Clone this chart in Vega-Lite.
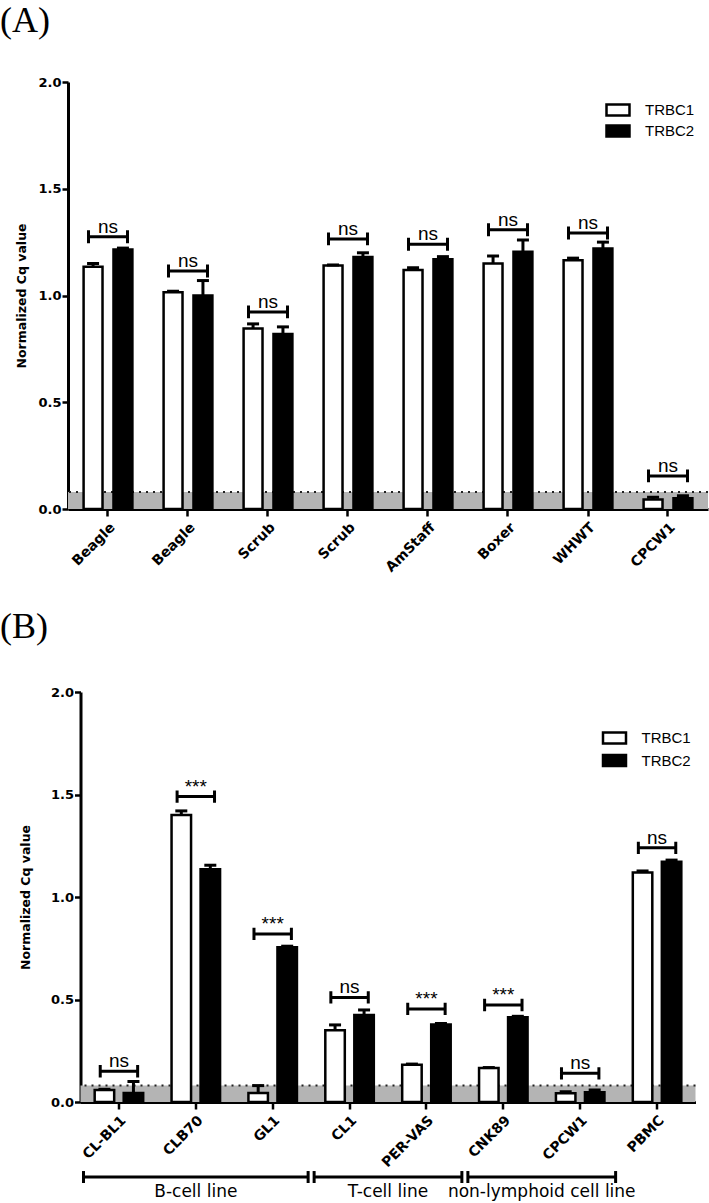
{
  "$schema": "https://vega.github.io/schema/vega-lite/v6.json",
  "autosize": {"type": "pad"},
  "padding": {"left": 0, "top": 3, "right": 0, "bottom": 0},
  "background": "white",
  "config": {
    "view": {"stroke": null},
    "axis": {
      "grid": false,
      "domainColor": "black",
      "domainWidth": 3,
      "tickColor": "black",
      "tickWidth": 2.5,
      "tickSize": 6,
      "labelColor": "black",
      "labelFont": "DejaVu Sans",
      "labelFontWeight": "bold",
      "labelFontSize": 13,
      "titleColor": "black",
      "titleFont": "DejaVu Sans",
      "titleFontWeight": "bold",
      "titleFontSize": 12.5
    },
    "legend": {
      "title": null,
      "orient": "none",
      "padding": 0,
      "symbolType": "M-1.5,-0.72H1.5V0.72H-1.5Z",
      "symbolSize": 235,
      "symbolStrokeColor": "black",
      "symbolStrokeWidth": 2.5,
      "symbolOpacity": 1,
      "labelFont": "Liberation Sans",
      "labelFontSize": 15,
      "labelColor": "black",
      "labelOffset": 18
    },
    "title": {
      "font": "Liberation Serif",
      "fontSize": 36,
      "fontWeight": "normal",
      "color": "black",
      "anchor": "start",
      "frame": "group"
    }
  },
  "datasets": {
    "threshold": [{"lo": 0, "hi": 0.08}],
    "bars_a": [
      {"sample": "Beagle#1", "gene": "TRBC1", "mean": 1.135, "upper": 1.15},
      {"sample": "Beagle#1", "gene": "TRBC2", "mean": 1.215, "upper": 1.222},
      {"sample": "Beagle#2", "gene": "TRBC1", "mean": 1.015, "upper": 1.02},
      {"sample": "Beagle#2", "gene": "TRBC2", "mean": 1.0, "upper": 1.07},
      {"sample": "Scrub#1", "gene": "TRBC1", "mean": 0.845, "upper": 0.867},
      {"sample": "Scrub#1", "gene": "TRBC2", "mean": 0.82, "upper": 0.853},
      {"sample": "Scrub#2", "gene": "TRBC1", "mean": 1.14, "upper": 1.143},
      {"sample": "Scrub#2", "gene": "TRBC2", "mean": 1.18, "upper": 1.2},
      {"sample": "AmStaff", "gene": "TRBC1", "mean": 1.12, "upper": 1.13},
      {"sample": "AmStaff", "gene": "TRBC2", "mean": 1.17, "upper": 1.182},
      {"sample": "Boxer", "gene": "TRBC1", "mean": 1.15, "upper": 1.185},
      {"sample": "Boxer", "gene": "TRBC2", "mean": 1.205, "upper": 1.26},
      {"sample": "WHWT", "gene": "TRBC1", "mean": 1.165, "upper": 1.175},
      {"sample": "WHWT", "gene": "TRBC2", "mean": 1.22, "upper": 1.25},
      {"sample": "CPCW1", "gene": "TRBC1", "mean": 0.045, "upper": 0.055},
      {"sample": "CPCW1", "gene": "TRBC2", "mean": 0.05, "upper": 0.062}
    ],
    "sig_a": [
      {"sample": "Beagle#1", "y": 1.275, "label": "ns"},
      {"sample": "Beagle#2", "y": 1.115, "label": "ns"},
      {"sample": "Scrub#1", "y": 0.923, "label": "ns"},
      {"sample": "Scrub#2", "y": 1.265, "label": "ns"},
      {"sample": "AmStaff", "y": 1.24, "label": "ns"},
      {"sample": "Boxer", "y": 1.308, "label": "ns"},
      {"sample": "WHWT", "y": 1.293, "label": "ns"},
      {"sample": "CPCW1", "y": 0.155, "label": "ns"}
    ],
    "bars_b": [
      {"sample": "CL-BL1", "gene": "TRBC1", "mean": 0.059, "upper": 0.062},
      {"sample": "CL-BL1", "gene": "TRBC2", "mean": 0.044, "upper": 0.1},
      {"sample": "CLB70", "gene": "TRBC1", "mean": 1.4, "upper": 1.42},
      {"sample": "CLB70", "gene": "TRBC2", "mean": 1.135, "upper": 1.155},
      {"sample": "GL1", "gene": "TRBC1", "mean": 0.044, "upper": 0.08},
      {"sample": "GL1", "gene": "TRBC2", "mean": 0.755, "upper": 0.76},
      {"sample": "CL1", "gene": "TRBC1", "mean": 0.35, "upper": 0.376},
      {"sample": "CL1", "gene": "TRBC2", "mean": 0.425, "upper": 0.449},
      {"sample": "PER-VAS", "gene": "TRBC1", "mean": 0.182, "upper": 0.185},
      {"sample": "PER-VAS", "gene": "TRBC2", "mean": 0.378, "upper": 0.383},
      {"sample": "CNK89", "gene": "TRBC1", "mean": 0.166, "upper": 0.168},
      {"sample": "CNK89", "gene": "TRBC2", "mean": 0.413, "upper": 0.418},
      {"sample": "CPCW1", "gene": "TRBC1", "mean": 0.043, "upper": 0.05},
      {"sample": "CPCW1", "gene": "TRBC2", "mean": 0.048, "upper": 0.058},
      {"sample": "PBMC", "gene": "TRBC1", "mean": 1.12, "upper": 1.127},
      {"sample": "PBMC", "gene": "TRBC2", "mean": 1.172, "upper": 1.18}
    ],
    "sig_b": [
      {"sample": "CL-BL1", "y": 0.15, "label": "ns"},
      {"sample": "CLB70", "y": 1.49, "label": "***"},
      {"sample": "GL1", "y": 0.82, "label": "***"},
      {"sample": "CL1", "y": 0.51, "label": "ns"},
      {"sample": "PER-VAS", "y": 0.454, "label": "***"},
      {"sample": "CNK89", "y": 0.473, "label": "***"},
      {"sample": "CPCW1", "y": 0.14, "label": "ns"},
      {"sample": "PBMC", "y": 1.24, "label": "ns"}
    ],
    "groups_b": [
      {"group": "B-cell line", "from": 0, "to": 3},
      {"group": "T-cell line", "from": 3, "to": 5},
      {"group": "non-lymphoid cell line", "from": 5, "to": 7}
    ]
  },
  "bounds": "flush",
  "center": true,
  "spacing": 183,
  "resolve": {
    "scale": {"x": "independent", "y": "independent", "xOffset": "independent"},
    "legend": {"fill": "independent"}
  },
  "vconcat": [
    {
      "width": 640,
      "height": 427,
      "title": {"text": "(A)", "dx": -68, "offset": 36},
      "layer": [
        {
          "data": {"name": "threshold"},
          "mark": {"type": "rect", "color": "#b4b4b4"},
          "encoding": {
            "y": {"field": "lo", "type": "quantitative", "title": "Normalized Cq value", "scale": {"domain": [0, 2], "nice": false}},
            "y2": {"field": "hi"}
          }
        },
        {
          "data": {"name": "threshold"},
          "mark": {"type": "rule", "color": "#222", "strokeWidth": 2, "strokeDash": [2, 5]},
          "encoding": {
            "y": {"field": "hi", "type": "quantitative", "title": "Normalized Cq value", "scale": {"domain": [0, 2], "nice": false}}
          }
        },
        {
          "data": {"name": "bars_a"},
          "mark": {"type": "bar", "stroke": "black", "strokeWidth": 2.5},
          "encoding": {
            "x": {
              "field": "sample", "type": "nominal",
              "scale": {"domain": ["Beagle#1", "Beagle#2", "Scrub#1", "Scrub#2", "AmStaff", "Boxer", "WHWT", "CPCW1"], "paddingInner": 0.39, "paddingOuter": 0.195},
              "axis": {"title": null, "labelAngle": -45, "labelExpr": "split(datum.label, '#')[0]", "labelFontSize": 14, "tickSize": 7, "labelPadding": 4}
            },
            "xOffset": {"field": "gene", "type": "nominal", "scale": {"domain": ["TRBC1", "TRBC2"], "paddingInner": 0.367, "paddingOuter": 0}},
            "y": {
              "field": "mean", "type": "quantitative", "title": "Normalized Cq value",
              "scale": {"domain": [0, 2], "nice": false},
              "axis": {"values": [0, 0.5, 1, 1.5, 2], "format": ".1f", "labelPadding": 1, "titlePadding": 9}
            },
            "fill": {
              "field": "gene", "type": "nominal",
              "scale": {"domain": ["TRBC1", "TRBC2"], "range": ["white", "black"]},
              "legend": {"legendX": 541, "legendY": 19, "rowPadding": -1}
            }
          }
        },
        {
          "data": {"name": "bars_a"},
          "mark": {"type": "rule", "color": "black", "strokeWidth": 3},
          "encoding": {
            "x": {"field": "sample", "type": "nominal", "scale": {"domain": ["Beagle#1", "Beagle#2", "Scrub#1", "Scrub#2", "AmStaff", "Boxer", "WHWT", "CPCW1"], "paddingInner": 0.39, "paddingOuter": 0.195}},
            "xOffset": {"field": "gene", "type": "nominal", "scale": {"domain": ["TRBC1", "TRBC2"], "paddingInner": 0.367, "paddingOuter": 0}},
            "y": {"field": "mean", "type": "quantitative", "title": "Normalized Cq value", "scale": {"domain": [0, 2], "nice": false}},
            "y2": {"field": "upper"}
          }
        },
        {
          "data": {"name": "bars_a"},
          "mark": {"type": "tick", "color": "black", "size": 12, "thickness": 3, "opacity": 1},
          "encoding": {
            "x": {"field": "sample", "type": "nominal", "scale": {"domain": ["Beagle#1", "Beagle#2", "Scrub#1", "Scrub#2", "AmStaff", "Boxer", "WHWT", "CPCW1"], "paddingInner": 0.39, "paddingOuter": 0.195}},
            "xOffset": {"field": "gene", "type": "nominal", "scale": {"domain": ["TRBC1", "TRBC2"], "paddingInner": 0.367, "paddingOuter": 0}},
            "y": {"field": "upper", "type": "quantitative", "title": "Normalized Cq value", "scale": {"domain": [0, 2], "nice": false}}
          }
        },
        {
          "data": {"name": "sig_a"},
          "mark": {"type": "point", "shape": "M-1,-0.33V0.33M-1,0H1M1,-0.33V0.33", "size": 1521, "filled": false, "stroke": "black", "strokeWidth": 3, "opacity": 1},
          "encoding": {
            "x": {"field": "sample", "type": "nominal", "scale": {"domain": ["Beagle#1", "Beagle#2", "Scrub#1", "Scrub#2", "AmStaff", "Boxer", "WHWT", "CPCW1"], "paddingInner": 0.39, "paddingOuter": 0.195}},
            "y": {"field": "y", "type": "quantitative", "title": "Normalized Cq value", "scale": {"domain": [0, 2], "nice": false}}
          }
        },
        {
          "data": {"name": "sig_a"},
          "mark": {"type": "text", "font": "Liberation Sans", "fontSize": 19, "color": "black", "baseline": "alphabetic", "dy": -4},
          "encoding": {
            "x": {"field": "sample", "type": "nominal", "scale": {"domain": ["Beagle#1", "Beagle#2", "Scrub#1", "Scrub#2", "AmStaff", "Boxer", "WHWT", "CPCW1"], "paddingInner": 0.39, "paddingOuter": 0.195}},
            "y": {"field": "y", "type": "quantitative", "title": "Normalized Cq value", "scale": {"domain": [0, 2], "nice": false}},
            "text": {"field": "label"}
          }
        }
      ]
    },
    {
      "width": 615,
      "height": 410,
      "title": {"text": "(B)", "dx": -80.5, "offset": 40},
      "resolve": {"scale": {"x": "independent"}},
      "layer": [
        {
          "layer": [
            {
              "data": {"name": "threshold"},
              "mark": {"type": "rect", "color": "#b4b4b4"},
              "encoding": {
                "y": {"field": "lo", "type": "quantitative", "title": "Normalized Cq value", "scale": {"domain": [0, 2], "nice": false}},
                "y2": {"field": "hi"}
              }
            },
            {
              "data": {"name": "threshold"},
              "mark": {"type": "rule", "color": "#222", "strokeWidth": 2, "strokeDash": [2, 5]},
              "encoding": {
                "y": {"field": "hi", "type": "quantitative", "title": "Normalized Cq value", "scale": {"domain": [0, 2], "nice": false}}
              }
            },
            {
              "data": {"name": "bars_b"},
              "mark": {"type": "bar", "stroke": "black", "strokeWidth": 2.5},
              "encoding": {
                "x": {
                  "field": "sample", "type": "nominal",
                  "scale": {"domain": ["CL-BL1", "CLB70", "GL1", "CL1", "PER-VAS", "CNK89", "CPCW1", "PBMC"], "paddingInner": 0.369, "paddingOuter": 0.1845},
                  "axis": {"title": null, "labelAngle": -45, "labelFontSize": 14, "tickSize": 7, "labelPadding": 4}
                },
                "xOffset": {"field": "gene", "type": "nominal", "scale": {"domain": ["TRBC1", "TRBC2"], "paddingInner": 0.328, "paddingOuter": 0}},
                "y": {
                  "field": "mean", "type": "quantitative", "title": "Normalized Cq value",
                  "scale": {"domain": [0, 2], "nice": false},
                  "axis": {"values": [0, 0.5, 1, 1.5, 2], "format": ".1f", "labelPadding": 1, "titlePadding": 18}
                },
                "fill": {
                  "field": "gene", "type": "nominal",
                  "scale": {"domain": ["TRBC1", "TRBC2"], "range": ["white", "black"]},
                  "legend": {"legendX": 525, "legendY": 37, "rowPadding": 0.5}
                }
              }
            },
            {
              "data": {"name": "bars_b"},
              "mark": {"type": "rule", "color": "black", "strokeWidth": 3},
              "encoding": {
                "x": {"field": "sample", "type": "nominal", "scale": {"domain": ["CL-BL1", "CLB70", "GL1", "CL1", "PER-VAS", "CNK89", "CPCW1", "PBMC"], "paddingInner": 0.369, "paddingOuter": 0.1845}},
                "xOffset": {"field": "gene", "type": "nominal", "scale": {"domain": ["TRBC1", "TRBC2"], "paddingInner": 0.328, "paddingOuter": 0}},
                "y": {"field": "mean", "type": "quantitative", "title": "Normalized Cq value", "scale": {"domain": [0, 2], "nice": false}},
                "y2": {"field": "upper"}
              }
            },
            {
              "data": {"name": "bars_b"},
              "mark": {"type": "tick", "color": "black", "size": 12, "thickness": 3, "opacity": 1},
              "encoding": {
                "x": {"field": "sample", "type": "nominal", "scale": {"domain": ["CL-BL1", "CLB70", "GL1", "CL1", "PER-VAS", "CNK89", "CPCW1", "PBMC"], "paddingInner": 0.369, "paddingOuter": 0.1845}},
                "xOffset": {"field": "gene", "type": "nominal", "scale": {"domain": ["TRBC1", "TRBC2"], "paddingInner": 0.328, "paddingOuter": 0}},
                "y": {"field": "upper", "type": "quantitative", "title": "Normalized Cq value", "scale": {"domain": [0, 2], "nice": false}}
              }
            },
            {
              "data": {"name": "sig_b"},
              "mark": {"type": "point", "shape": "M-1,-0.33V0.33M-1,0H1M1,-0.33V0.33", "size": 1400, "filled": false, "stroke": "black", "strokeWidth": 3, "opacity": 1},
              "encoding": {
                "x": {"field": "sample", "type": "nominal", "scale": {"domain": ["CL-BL1", "CLB70", "GL1", "CL1", "PER-VAS", "CNK89", "CPCW1", "PBMC"], "paddingInner": 0.369, "paddingOuter": 0.1845}},
                "y": {"field": "y", "type": "quantitative", "title": "Normalized Cq value", "scale": {"domain": [0, 2], "nice": false}}
              }
            },
            {
              "data": {"name": "sig_b"},
              "mark": {"type": "text", "font": "Liberation Sans", "fontSize": 19, "color": "black", "baseline": "alphabetic", "dy": -4},
              "encoding": {
                "x": {"field": "sample", "type": "nominal", "scale": {"domain": ["CL-BL1", "CLB70", "GL1", "CL1", "PER-VAS", "CNK89", "CPCW1", "PBMC"], "paddingInner": 0.369, "paddingOuter": 0.1845}},
                "y": {"field": "y", "type": "quantitative", "title": "Normalized Cq value", "scale": {"domain": [0, 2], "nice": false}},
                "text": {"field": "label"}
              }
            }
          ]
        },
        {
          "data": {"name": "groups_b"},
          "layer": [
            {
              "mark": {"type": "rule", "color": "black", "strokeWidth": 3, "xOffset": 3, "x2Offset": -3},
              "encoding": {
                "x": {"field": "from", "type": "quantitative", "scale": {"domain": [0, 8], "nice": false, "zero": false}, "axis": null},
                "x2": {"field": "to"},
                "y": {"datum": -0.366, "type": "quantitative", "title": "Normalized Cq value", "scale": {"domain": [0, 2], "nice": false}}
              }
            },
            {
              "mark": {"type": "tick", "orient": "vertical", "color": "black", "size": 12, "thickness": 3, "opacity": 1, "xOffset": 3},
              "encoding": {
                "x": {"field": "from", "type": "quantitative", "scale": {"domain": [0, 8], "nice": false, "zero": false}, "axis": null},
                "y": {"datum": -0.366, "type": "quantitative", "title": "Normalized Cq value", "scale": {"domain": [0, 2], "nice": false}}
              }
            },
            {
              "mark": {"type": "tick", "orient": "vertical", "color": "black", "size": 12, "thickness": 3, "opacity": 1, "xOffset": -3},
              "encoding": {
                "x": {"field": "to", "type": "quantitative", "scale": {"domain": [0, 8], "nice": false, "zero": false}, "axis": null},
                "y": {"datum": -0.366, "type": "quantitative", "title": "Normalized Cq value", "scale": {"domain": [0, 2], "nice": false}}
              }
            },
            {
              "transform": [
                {"fold": ["from", "to"], "as": ["edge", "pos"]},
                {"aggregate": [{"op": "mean", "field": "pos", "as": "mid"}], "groupby": ["group"]}
              ],
              "mark": {"type": "text", "font": "DejaVu Sans", "fontSize": 17, "color": "black", "baseline": "alphabetic", "dy": 20},
              "encoding": {
                "x": {"field": "mid", "type": "quantitative", "scale": {"domain": [0, 8], "nice": false, "zero": false}, "axis": null},
                "y": {"datum": -0.366, "type": "quantitative", "title": "Normalized Cq value", "scale": {"domain": [0, 2], "nice": false}},
                "text": {"field": "group"}
              }
            }
          ]
        }
      ]
    }
  ]
}
